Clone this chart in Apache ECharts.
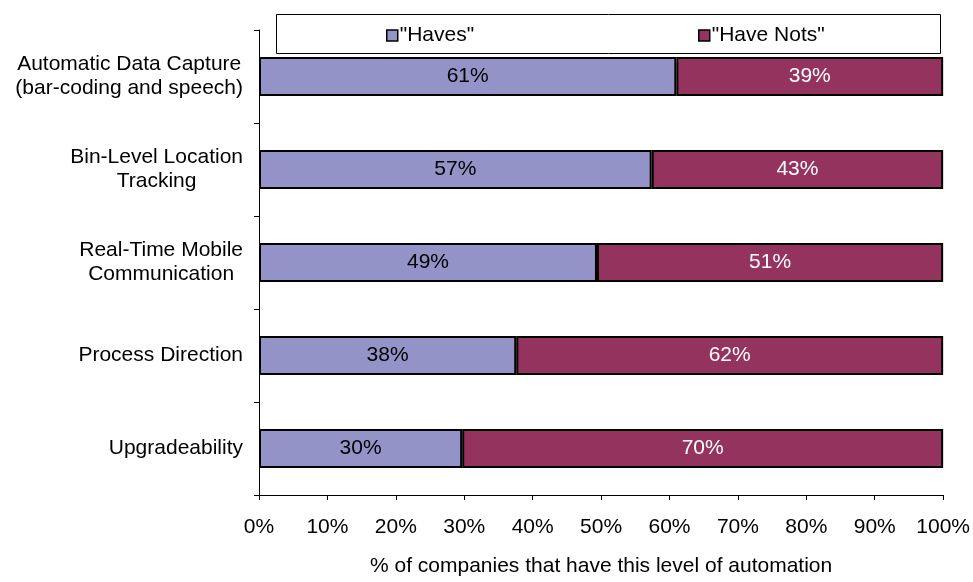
<!DOCTYPE html>
<html><head><meta charset="utf-8">
<script src="https://cdn.jsdelivr.net/npm/echarts@6/dist/echarts.min.js"></script>
<style>html,body{margin:0;padding:0;background:#fff}#c{width:973px;height:582px}</style>
</head><body><div id="c"></div>
<script>
const categories = ["Automatic Data Capture\n(bar-coding and speech)", "Bin-Level Location\nTracking", "Real-Time Mobile\nCommunication", "Process Direction", "Upgradeability"];
const haves = [61, 57.4, 49.4, 37.6, 29.7];
const haveNots = [39, 42.6, 50.6, 62.4, 70.3];
const xTicks = [0, 10, 20, 30, 40, 50, 60, 70, 80, 90, 100];
const seriesNames = ['"Haves"', '"Have Nots"'];
const FONT = 'Liberation Sans, Arial, sans-serif';
const FS = 21;
const chart = echarts.init(document.getElementById('c'));
const legendCommon = {
  top: 20, itemWidth: 11, itemHeight: 11, icon: 'rect',
  textStyle: {fontSize: FS, color: '#000', fontFamily: FONT, padding: [0,0,0,-3]},
  itemStyle: {borderColor: '#000', borderWidth: 1.5}, z: 5
};
chart.setOption({
  animation: false,
  textStyle: {fontFamily: FONT},
  graphic: [{type: 'rect', shape: {x: 276.5, y: 14.5, width: 664, height: 39}, style: {fill: '#fff', stroke: '#000', lineWidth: 1}, z: 1}],
  legend: [
    Object.assign({left: 381, data: [seriesNames[0]]}, legendCommon),
    Object.assign({left: 693, data: [seriesNames[1]]}, legendCommon)
  ],
  grid: {left: 259, right: 29, top: 30, bottom: 80},
  xAxis: {
    type: 'value', min: xTicks[0], max: xTicks[xTicks.length-1], interval: 10,
    axisLine: {show: true, lineStyle: {color: '#000', width: 1}},
    axisTick: {show: true, length: 5, lineStyle: {color: '#000'}},
    splitLine: {show: false},
    axisLabel: {formatter: v => v + '%', fontSize: FS, color: '#000', margin: 22, fontFamily: FONT},
    name: '% of companies that have this level of automation', nameLocation: 'middle', nameGap: 61,
    nameTextStyle: {fontSize: FS, color: '#000', fontFamily: FONT}
  },
  yAxis: {
    type: 'category', data: categories, inverse: true,
    axisLine: {show: true, lineStyle: {color: '#000', width: 1}},
    axisTick: {show: true, length: 5, lineStyle: {color: '#000'}},
    axisLabel: {fontSize: FS, color: '#000', margin: 16, lineHeight: 24, align: 'right', fontFamily: FONT,
      formatter: v => v.split('\n').map(s => '{c|' + s + '}').join('\n'),
      rich: {c: {align: 'center', fontSize: FS, lineHeight: 24, color: '#000', fontFamily: FONT}}},
  },
  series: [
    {name: seriesNames[0], type: 'bar', stack: 'a', data: haves, barWidth: 39,
     itemStyle: {color: '#9393c8', borderColor: '#000', borderWidth: 2},
     label: {show: true, position: 'inside', color: '#000', fontSize: FS, fontFamily: FONT, formatter: p => Math.round(p.value) + '%'}},
    {name: seriesNames[1], type: 'bar', stack: 'a', data: haveNots, barWidth: 39,
     itemStyle: {color: '#93335e', borderColor: '#000', borderWidth: 2},
     label: {show: true, position: 'inside', color: '#fff', fontSize: FS, fontFamily: FONT, formatter: p => Math.round(p.value) + '%'}}
  ]
});
</script></body></html>
